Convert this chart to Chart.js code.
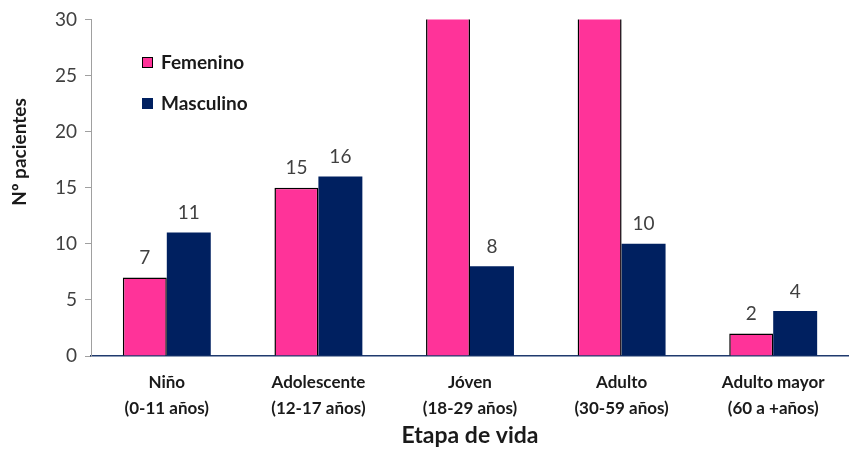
<!DOCTYPE html>
<html>
<head>
<meta charset="utf-8">
<script src="https://cdn.jsdelivr.net/npm/chart.js@4.4.0/dist/chart.umd.min.js"></script>
<style>
  body { margin: 0; background: #fff; }
  #wrap { width: 849px; height: 449px; }
</style>
</head>
<body>
<div id="wrap"><canvas id="chart"></canvas></div>
<script>
'use strict';

// etapas de vida (two lines each)
var categories = [
    ['Niño', '(0-11 años)'],
    ['Adolescente', '(12-17 años)'],
    ['Jóven', '(18-29 años)'],
    ['Adulto', '(30-59 años)'],
    ['Adulto mayor', '(60 a +años)']
];
// Jóven and Adulto femenino run off the top of the axis (> 30)
var femenino = [7, 15, 36, 34, 2];
var masculino = [11, 16, 8, 10, 4];
var yTicks = [0, 5, 10, 15, 20, 25, 30];

var FONT = 'Lato, "Open Sans", sans-serif';

// value labels above bars, skipped when bar is cut by the axis
var barLabels = {
    id: 'barLabels',
    afterDatasetsDraw: function (chart) {
        var ctx = chart.ctx;
        var max = chart.scales.y.max;
        ctx.save();
        ctx.font = '19px ' + FONT;
        ctx.fillStyle = '#404040';
        ctx.textAlign = 'center';
        ctx.textBaseline = 'bottom';
        chart.data.datasets.forEach(function (ds, i) {
            chart.getDatasetMeta(i).data.forEach(function (bar, j) {
                if (ds.data[j] > max) return;
                ctx.fillText(ds.data[j], bar.x, bar.y - 10);
            });
        });
        ctx.restore();
    }
};

// legend inside the plot + rotated y title
var extras = {
    id: 'extras',
    afterDraw: function (chart) {
        var ctx = chart.ctx;
        ctx.save();
        var items = [
            { text: 'Femenino', color: '#FF3399', border: '#000', y: 62 },
            { text: 'Masculino', color: '#002060', border: '#002060', y: 103 }
        ];
        ctx.font = 'bold 19px ' + FONT;
        ctx.textBaseline = 'middle';
        items.forEach(function (it) {
            ctx.fillStyle = it.color;
            ctx.fillRect(142, it.y - 5, 11, 11);
            ctx.strokeStyle = it.border;
            ctx.lineWidth = 1;
            ctx.strokeRect(142.5, it.y - 4.5, 10, 10);
            ctx.fillStyle = '#1a1a1a';
            ctx.fillText(it.text, 161, it.y + 1);
        });

        ctx.translate(20, 152);
        ctx.rotate(-Math.PI / 2);
        ctx.textAlign = 'center';
        ctx.fillStyle = '#1a1a1a';
        ctx.font = 'bold 19px ' + FONT;
        ctx.fillText('Nº pacientes', 0, 0);
        ctx.restore();
    }
};

new Chart(document.getElementById('chart'), {
    type: 'bar',
    data: {
        labels: categories,
        datasets: [{
            label: 'Femenino',
            data: femenino,
            backgroundColor: '#FF3399',
            borderColor: '#000000',
            borderWidth: 1.5,
            categoryPercentage: 0.58,
            barPercentage: 1
        }, {
            label: 'Masculino',
            data: masculino,
            backgroundColor: '#002060',
            borderColor: '#002060',
            borderWidth: 0,
            categoryPercentage: 0.58,
            barPercentage: 1
        }]
    },
    options: {
        responsive: true,
        maintainAspectRatio: false,
        animation: false,
        layout: { padding: { top: 19, right: 0, left: 0, bottom: 0 } },
        plugins: {
            legend: { display: false },
            tooltip: { enabled: false }
        },
        scales: {
            x: {
                grid: { display: false },
                border: { color: '#1F3A6E', width: 1.5 },
                ticks: {
                    color: '#1a1a1a',
                    font: { family: FONT, size: 17, weight: 'bold', lineHeight: 1.5 },
                    padding: 6,
                    maxRotation: 0
                },
                title: {
                    display: true,
                    text: 'Etapa de vida',
                    color: '#1a1a1a',
                    font: { family: FONT, size: 23, weight: 'bold' },
                    padding: { top: 2, bottom: 0 }
                },
                afterFit: function (s) { s.height = 93; }
            },
            y: {
                min: 0,
                max: 30,
                afterBuildTicks: function (s) {
                    s.ticks = yTicks.map(function (v) { return { value: v }; });
                },
                grid: {
                    display: true,
                    drawOnChartArea: false,
                    drawTicks: true,
                    tickLength: 6,
                    color: '#A0A0A0'
                },
                border: { color: '#A0A0A0', width: 1 },
                ticks: {
                    color: '#404040',
                    font: { family: FONT, size: 19 },
                    padding: 8
                },
                afterFit: function (s) { s.width = 91; }
            }
        }
    },
    plugins: [barLabels, extras]
});
</script>
</body>
</html>
